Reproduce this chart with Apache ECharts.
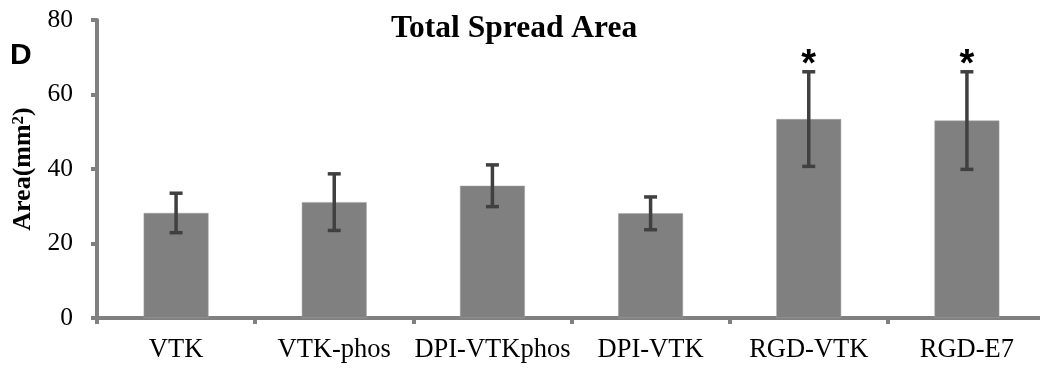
<!DOCTYPE html>
<html>
<head>
<meta charset="utf-8">
<script src="https://cdn.jsdelivr.net/npm/echarts@6/dist/echarts.min.js"></script>
<style>
html,body{margin:0;padding:0;background:#fff;}
#chart{width:1040px;height:368px;}
</style>
</head>
<body>
<div id="chart"></div>
<script>
const categories = ['VTK', 'VTK-phos', 'DPI-VTKphos', 'DPI-VTK', 'RGD-VTK', 'RGD-E7'];
const means = [28.2, 31.1, 35.5, 28.1, 53.4, 53.0];
const errors = [5.3, 7.6, 5.6, 4.4, 12.7, 13.1];
const significant = [false, false, false, false, true, true];
const yMin = 0, yMax = 80, yInterval = 20;

const errData = categories.map((c, i) => [i, means[i] + errors[i], means[i] - errors[i], significant[i] ? 1 : 0]);

const chart = echarts.init(document.getElementById('chart'), null, {renderer: 'canvas'});
const serif = '"Liberation Serif", "Times New Roman", serif';
chart.setOption({
  animation: false,
  backgroundColor: '#ffffff',
  title: {
    text: 'Total Spread Area',
    left: 386, top: 8,
    textStyle: {fontFamily: serif, fontWeight: 'bold', fontSize: 31.5, color: '#000'}
  },
  graphic: [
    {type: 'text', left: 10, top: 41, style: {text: 'D', font: 'bold 30px "Liberation Sans", Arial, sans-serif', fill: '#000'}}
  ],
  grid: {left: 97, top: 20, width: 949, height: 298, containLabel: false, outerBoundsMode: 'none'},
  xAxis: {
    type: 'category',
    data: categories,
    axisLine: {lineStyle: {color: '#808080', width: 4}},
    axisTick: {show: true, length: 6, lineStyle: {color: '#808080', width: 4}},
    axisLabel: {fontFamily: serif, fontSize: 26.5, color: '#000', margin: 19, interval: 0}
  },
  yAxis: {
    type: 'value',
    min: yMin, max: yMax, interval: yInterval,
    name: '{b|Area(mm}{s|2}{b|)}',
    nameLocation: 'middle',
    nameGap: 60,
    nameRotate: 90,
    nameTextStyle: {
      fontFamily: serif, fontWeight: 'bold', fontSize: 26, color: '#000',
      rich: {
        b: {fontFamily: serif, fontWeight: 'bold', fontSize: 26, color: '#000'},
        s: {fontFamily: serif, fontWeight: 'bold', fontSize: 17, color: '#000', verticalAlign: 'top', padding: [0, 0, 10, 0]}
      }
    },
    splitLine: {show: false},
    axisLine: {show: true, lineStyle: {color: '#808080', width: 4}},
    axisTick: {show: true, length: 6, lineStyle: {color: '#808080', width: 4}},
    axisLabel: {fontFamily: serif, fontSize: 25.5, color: '#000', margin: 24}
  },
  series: [
    {
      type: 'bar',
      data: means,
      barWidth: '41%',
      itemStyle: {color: '#808080', borderColor: '#a0a0a0', borderWidth: 0.5},
      z: 2
    },
    {
      type: 'custom',
      data: errData,
      z: 5,
      renderItem: function (params, api) {
        const x = api.value(0);
        const pHi = api.coord([x, api.value(1)]);
        const pLo = api.coord([x, api.value(2)]);
        const half = 6.5;
        const st = {stroke: '#404040', lineWidth: 3.5};
        const children = [
          {type: 'line', shape: {x1: pHi[0], y1: pHi[1], x2: pLo[0], y2: pLo[1]}, style: st},
          {type: 'line', shape: {x1: pHi[0] - half, y1: pHi[1], x2: pHi[0] + half, y2: pHi[1]}, style: st},
          {type: 'line', shape: {x1: pLo[0] - half, y1: pLo[1], x2: pLo[0] + half, y2: pLo[1]}, style: st}
        ];
        if (api.value(3) === 1) {
          children.push({type: 'text', x: pHi[0], y: pHi[1] - 6,
            style: {text: '*', font: 'bold 38px "Liberation Sans", Arial, sans-serif', fill: '#000', align: 'center', verticalAlign: 'middle'}});
        }
        return {type: 'group', children: children};
      }
    }
  ]
});
</script>
</body>
</html>
